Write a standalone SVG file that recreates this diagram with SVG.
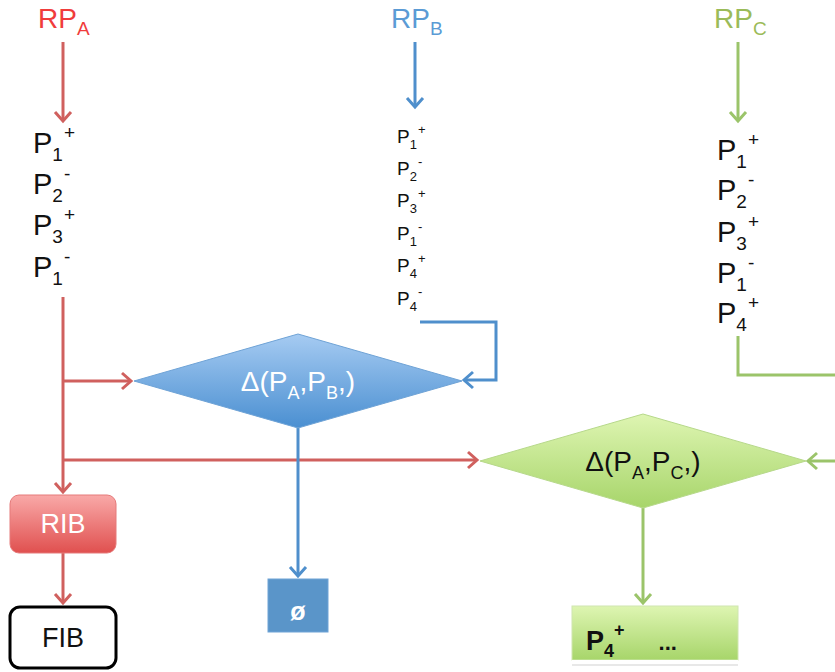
<svg xmlns="http://www.w3.org/2000/svg" width="835" height="672" viewBox="0 0 835 672">
  <defs>
    <style>
      text { font-family: "Liberation Sans", Arial, sans-serif; }
      .red { stroke: #d0605e; stroke-width: 3; fill: none; }
      .blue { stroke: #4f8fcc; stroke-width: 3; fill: none; }
      .green { stroke: #9bc46a; stroke-width: 3; fill: none; }
      .lbl { font-size: 29px; fill: #111; }
      .lblsm { font-size: 19px; fill: #111; }
    </style>
    <marker id="ahRed" markerWidth="20" markerHeight="20" refX="10" refY="10" orient="auto" markerUnits="userSpaceOnUse">
      <path d="M1,2 L10,10 L1,18" fill="none" stroke="#d0605e" stroke-width="3"/>
    </marker>
    <marker id="ahBlue" markerWidth="20" markerHeight="20" refX="10" refY="10" orient="auto" markerUnits="userSpaceOnUse">
      <path d="M1,2 L10,10 L1,18" fill="none" stroke="#4f8fcc" stroke-width="3"/>
    </marker>
    <marker id="ahGreen" markerWidth="20" markerHeight="20" refX="10" refY="10" orient="auto" markerUnits="userSpaceOnUse">
      <path d="M1,2 L10,10 L1,18" fill="none" stroke="#9bc46a" stroke-width="3"/>
    </marker>
    <linearGradient id="gBlue" x1="0" y1="0" x2="0" y2="1">
      <stop offset="0" stop-color="#a6cbf2"/>
      <stop offset="1" stop-color="#4a8fd1"/>
    </linearGradient>
    <linearGradient id="gGreen" x1="0" y1="0" x2="0" y2="1">
      <stop offset="0" stop-color="#def5b2"/>
      <stop offset="1" stop-color="#a7d56a"/>
    </linearGradient>
    <linearGradient id="gRed" x1="0" y1="0" x2="0" y2="1">
      <stop offset="0" stop-color="#f9a9a8"/>
      <stop offset="1" stop-color="#e0504f"/>
    </linearGradient>
  </defs>

  <!-- source headers -->
  <g id="rpA">
    <text x="38" y="28" font-size="28" fill="#f03c3c">RP<tspan font-size="19" dy="7">A</tspan></text>
  </g>
  <g id="rpB">
    <text x="391" y="28" font-size="28" fill="#5b9bd5">RP<tspan font-size="19" dy="7">B</tspan></text>
  </g>
  <g id="rpC">
    <text x="714" y="28" font-size="28" fill="#9bbb59">RP<tspan font-size="19" dy="7">C</tspan></text>
  </g>

  <!-- prefix lists -->
  <g id="listA">
    <text x="33" y="153" class="lbl">P<tspan font-size="19" dy="8">1</tspan><tspan font-size="19" dx="1" dy="-22">+</tspan></text>
    <text x="33" y="194" class="lbl">P<tspan font-size="19" dy="8">2</tspan><tspan font-size="19" dx="1" dy="-22">-</tspan></text>
    <text x="33" y="235" class="lbl">P<tspan font-size="19" dy="8">3</tspan><tspan font-size="19" dx="1" dy="-22">+</tspan></text>
    <text x="33" y="277" class="lbl">P<tspan font-size="19" dy="8">1</tspan><tspan font-size="19" dx="1" dy="-22">-</tspan></text>
  </g>
  <g id="listB">
    <text x="397" y="143" class="lblsm">P<tspan font-size="13" dy="6">1</tspan><tspan font-size="13" dx="1" dy="-15">+</tspan></text>
    <text x="397" y="175" class="lblsm">P<tspan font-size="13" dy="6">2</tspan><tspan font-size="13" dx="1" dy="-15">-</tspan></text>
    <text x="397" y="207" class="lblsm">P<tspan font-size="13" dy="6">3</tspan><tspan font-size="13" dx="1" dy="-15">+</tspan></text>
    <text x="397" y="240" class="lblsm">P<tspan font-size="13" dy="6">1</tspan><tspan font-size="13" dx="1" dy="-15">-</tspan></text>
    <text x="397" y="272" class="lblsm">P<tspan font-size="13" dy="6">4</tspan><tspan font-size="13" dx="1" dy="-15">+</tspan></text>
    <text x="397" y="305" class="lblsm">P<tspan font-size="13" dy="6">4</tspan><tspan font-size="13" dx="1" dy="-15">-</tspan></text>
  </g>
  <g id="listC">
    <text x="717" y="160" class="lbl">P<tspan font-size="19" dy="8">1</tspan><tspan font-size="19" dx="1" dy="-22">+</tspan></text>
    <text x="717" y="200" class="lbl">P<tspan font-size="19" dy="8">2</tspan><tspan font-size="19" dx="1" dy="-22">-</tspan></text>
    <text x="717" y="242" class="lbl">P<tspan font-size="19" dy="8">3</tspan><tspan font-size="19" dx="1" dy="-22">+</tspan></text>
    <text x="717" y="283" class="lbl">P<tspan font-size="19" dy="8">1</tspan><tspan font-size="19" dx="1" dy="-22">-</tspan></text>
    <text x="717" y="323" class="lbl">P<tspan font-size="19" dy="8">4</tspan><tspan font-size="19" dx="1" dy="-22">+</tspan></text>
  </g>

  <!-- connectors -->
  <g id="connectors">
    <path class="red" d="M63,42 V121" marker-end="url(#ahRed)"/>
    <path class="red" d="M63,297 V492" marker-end="url(#ahRed)"/>
    <path class="red" d="M63,381 H131" marker-end="url(#ahRed)"/>
    <path class="red" d="M63,460 H477" marker-end="url(#ahRed)"/>
    <path class="red" d="M63,553 V603" marker-end="url(#ahRed)"/>
    <path class="blue" d="M415,42 V107" marker-end="url(#ahBlue)"/>
    <path class="blue" d="M420,322 H496 V380 H464" marker-end="url(#ahBlue)"/>
    <path class="blue" d="M298,428 V576" marker-end="url(#ahBlue)"/>
    <path class="green" d="M738,42 V121" marker-end="url(#ahGreen)"/>
    <path class="green" d="M738,336 V375 H836"/>
    <path class="green" d="M836,461 H808" marker-end="url(#ahGreen)"/>
    <path class="green" d="M643,508 V603" marker-end="url(#ahGreen)"/>
  </g>

  <!-- comparison nodes -->
  <g id="deltaAB">
    <polygon points="134,381 298,334 462,381 298,428" fill="url(#gBlue)" stroke="#6fa3d6" stroke-width="1"/>
    <text x="298" y="391" font-size="28" fill="#ffffff" text-anchor="middle">Δ(P<tspan font-size="18" dy="8">A</tspan><tspan dy="-8">,P</tspan><tspan font-size="18" dy="8">B</tspan><tspan dy="-8">,)</tspan></text>
  </g>
  <g id="deltaAC">
    <polygon points="480,461 643,414 806,461 643,508" fill="url(#gGreen)" stroke="#b6d88a" stroke-width="1"/>
    <text x="643" y="471" font-size="28" fill="#111" text-anchor="middle">Δ(P<tspan font-size="18" dy="8">A</tspan><tspan dy="-8">,P</tspan><tspan font-size="18" dy="8">C</tspan><tspan dy="-8">,)</tspan></text>
  </g>

  <!-- result nodes -->
  <g id="rib">
    <rect x="10" y="495" width="106" height="58" rx="9" fill="url(#gRed)" stroke="#e57a7a" stroke-width="1"/>
    <text x="63" y="533" font-size="27" fill="#ffffff" text-anchor="middle">RIB</text>
  </g>
  <g id="fib">
    <rect x="10" y="607" width="106" height="61" rx="10" fill="#ffffff" stroke="#000000" stroke-width="3"/>
    <text x="63" y="647" font-size="27" fill="#111" text-anchor="middle">FIB</text>
  </g>
  <g id="empty">
    <rect x="268" y="579" width="60" height="53" fill="#5a95c9" stroke="#6fa3d6" stroke-width="1"/>
    <text x="298" y="620" font-size="25" font-weight="bold" fill="#ffffff" text-anchor="middle">ø</text>
  </g>
  <g id="result">
    <rect x="572" y="606" width="166" height="60" fill="#e8e8e8"/>
    <rect x="572" y="606" width="166" height="54" fill="url(#gGreen)" stroke="#cfe6b0" stroke-width="1"/>
    <rect x="572" y="660" width="166" height="4" fill="#ffffff"/>
    <text x="586" y="650" font-size="27" font-weight="bold" fill="#111">P<tspan font-size="18" dy="7">4</tspan><tspan font-size="18" dy="-21">+</tspan><tspan font-size="22" dx="34" dy="14">...</tspan></text>
  </g>
</svg>
